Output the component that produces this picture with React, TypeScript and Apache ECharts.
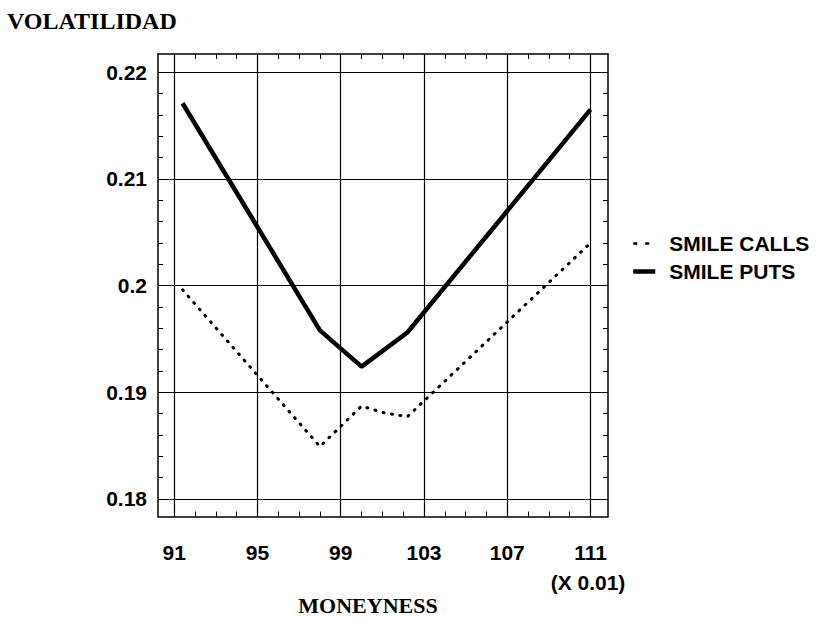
import React, { useEffect, useRef } from "react";
import * as echarts from "echarts";

// ---- data ----
const putsMoneyness = [91.4, 98, 100, 102.2, 111];
const putsVol = [0.2171, 0.1958, 0.1924, 0.1956, 0.2165];

const callsMoneyness = [91.4, 98, 100, 101, 102.2, 111];
const callsVol = [0.1996, 0.1849, 0.1887, 0.1881, 0.1877, 0.204];

const xLabels = [91, 95, 99, 103, 107, 111];
const xMinorTicks = [91, 92, 93, 94, 95, 96, 97, 98, 99, 100, 101, 102, 103, 104, 105, 106, 107, 108, 109, 110, 111];
const yLabels = [0.18, 0.19, 0.2, 0.21, 0.22];
const yMinorTicks = [
  0.18, 0.182, 0.184, 0.186, 0.188, 0.19, 0.192, 0.194, 0.196, 0.198, 0.2,
  0.202, 0.204, 0.206, 0.208, 0.21, 0.212, 0.214, 0.216, 0.218, 0.22,
];

const X_MIN = 90.22;
const X_MAX = 111.84;
const Y_MIN = 0.17834;
const Y_MAX = 0.22172;

const SANS = "'Liberation Sans', Arial, sans-serif";
const SERIF = "'Liberation Serif', 'Times New Roman', serif";

export default function App() {
  const ref = useRef<HTMLDivElement>(null);

  useEffect(() => {
    if (!ref.current) return;
    const chart = echarts.init(ref.current, undefined, { renderer: "svg" });

    const axisLine = { show: true, lineStyle: { color: "#000", width: 1.5 } };
    const minorTick = (vals: number[]) => ({
      show: true,
      inside: true,
      length: 5,
      customValues: vals,
      lineStyle: { color: "#000", width: 1 },
    });
    const gridLine = { show: true, lineStyle: { color: "#000", width: 1.2, type: "solid" } };

    const pair = (xs: number[], ys: number[]) => xs.map((x, i) => [x, ys[i]]);

    chart.setOption({
      animation: false,
      backgroundColor: "#fff",
      grid: { left: 158, right: 225, top: 54, bottom: 102.5, containLabel: false },
      xAxis: [
        {
          type: "value",
          position: "bottom",
          min: X_MIN,
          max: X_MAX,
          axisLine,
          axisTick: minorTick(xMinorTicks),
          axisLabel: {
            customValues: xLabels,
            margin: 25,
            color: "#000",
            fontFamily: SANS,
            fontWeight: "bold",
            fontSize: 21,
          },
          splitLine: { show: false },
        },
        {
          type: "value",
          position: "top",
          min: X_MIN,
          max: X_MAX,
          axisLine,
          axisTick: minorTick(xMinorTicks),
          axisLabel: { show: false },
          splitLine: { show: false },
        },
        {
          type: "value",
          position: "bottom",
          min: X_MIN,
          max: X_MAX,
          axisLine: { show: false },
          axisTick: { show: false, customValues: xLabels },
          axisLabel: { show: false },
          splitLine: gridLine,
        },
      ],
      yAxis: [
        {
          type: "value",
          position: "left",
          min: Y_MIN,
          max: Y_MAX,
          axisLine,
          axisTick: minorTick(yMinorTicks),
          axisLabel: {
            customValues: yLabels,
            margin: 11,
            color: "#000",
            fontFamily: SANS,
            fontWeight: "bold",
            fontSize: 21,
          },
          splitLine: { show: false },
        },
        {
          type: "value",
          position: "right",
          min: Y_MIN,
          max: Y_MAX,
          axisLine,
          axisTick: minorTick(yMinorTicks),
          axisLabel: { show: false },
          splitLine: { show: false },
        },
        {
          type: "value",
          position: "left",
          min: Y_MIN,
          max: Y_MAX,
          axisLine: { show: false },
          axisTick: { show: false, customValues: yLabels },
          axisLabel: { show: false },
          splitLine: gridLine,
        },
      ],
      legend: {
        orient: "vertical",
        left: 626,
        top: 228,
        itemWidth: 22,
        itemHeight: 14,
        itemGap: 7,
        itemStyle: { opacity: 0 },
        textStyle: {
          color: "#000",
          fontFamily: SANS,
          fontWeight: "bold",
          fontSize: 21,
          padding: [0, 0, 0, 9],
        },
        data: [
          {
            name: "SMILE CALLS",
            itemStyle: { opacity: 0 },
            lineStyle: { type: [4, 8], width: 2.5, cap: "butt" },
          },
          {
            name: "SMILE PUTS",
            itemStyle: { opacity: 0 },
            lineStyle: { type: "solid", width: 4.5 },
          },
        ],
      },
      series: [
        {
          name: "SMILE CALLS",
          type: "line",
          xAxisIndex: 0,
          yAxisIndex: 0,
          data: pair(callsMoneyness, callsVol),
          symbol: "none",
          lineStyle: { color: "#000", width: 3, type: [1, 7.5], cap: "round" },
          itemStyle: { color: "#000" },
          z: 5,
        },
        {
          name: "SMILE PUTS",
          type: "line",
          xAxisIndex: 0,
          yAxisIndex: 0,
          data: pair(putsMoneyness, putsVol),
          symbol: "none",
          lineStyle: { color: "#000", width: 4.5, type: "solid" },
          itemStyle: { color: "#000" },
          z: 6,
        },
      ],
      graphic: [
        {
          type: "text",
          left: 7,
          top: 9,
          style: {
            text: "VOLATILIDAD",
            fill: "#000",
            font: `bold 24px ${SERIF}`,
          },
        },
        {
          type: "text",
          x: 368,
          y: 605,
          style: {
            text: "MONEYNESS",
            fill: "#000",
            font: `bold 22px ${SERIF}`,
            align: "center",
            verticalAlign: "middle",
          },
        },
        {
          type: "text",
          x: 588,
          y: 582,
          style: {
            text: "(X 0.01)",
            fill: "#000",
            font: `bold 21px ${SANS}`,
            align: "center",
            verticalAlign: "middle",
          },
        },
      ],
    });

    return () => chart.dispose();
  }, []);

  return (
    <div
      ref={ref}
      style={{ position: "fixed", left: 0, top: 0, width: 833, height: 619 }}
    />
  );
}
